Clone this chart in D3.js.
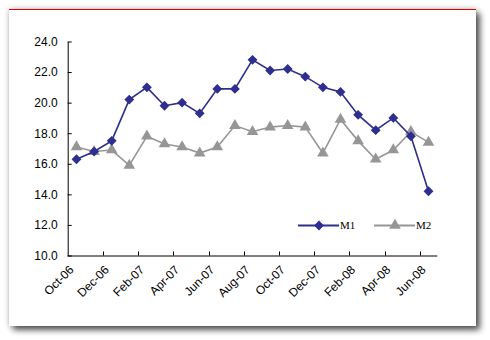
<!DOCTYPE html>
<html>
<head>
<meta charset="utf-8">
<script src="https://cdn.jsdelivr.net/npm/d3@7"></script>
<style>
  html, body { margin: 0; padding: 0; background: #fff; }
  svg { display: block; }
</style>
</head>
<body>
<svg id="chart" width="490" height="340"></svg>
<script>
// Monthly categories, Oct-06 .. Jun-08
const months = ["Oct-06","Nov-06","Dec-06","Jan-07","Feb-07","Mar-07","Apr-07","May-07","Jun-07",
                "Jul-07","Aug-07","Sep-07","Oct-07","Nov-07","Dec-07","Jan-08","Feb-08","Mar-08",
                "Apr-08","May-08","Jun-08"];
// Year-on-year growth, %
const m1 = [16.3,16.8,17.5,20.2,21.0,19.8,20.0,19.3,20.9,20.9,22.8,22.1,22.2,21.7,21.0,20.7,19.2,18.2,19.0,17.8,14.2];
const m2 = [17.1,16.8,16.9,15.9,17.8,17.3,17.1,16.7,17.1,18.5,18.1,18.4,18.5,18.4,16.7,18.9,17.5,16.3,16.9,18.1,17.4];
const yTicks = [10,12,14,16,18,20,22,24];
const seriesNames = ["M1","M2"];

(function () {
const svg = d3.select("#chart");

// Card with soft shadow
const defs = svg.append("defs");
const f = defs.append("filter").attr("id","shadow")
  .attr("x","-10%").attr("y","-10%").attr("width","120%").attr("height","120%");
f.append("feGaussianBlur").attr("in","SourceAlpha").attr("stdDeviation",3).attr("result","b1");
f.append("feOffset").attr("in","b1").attr("dx",4).attr("dy",4).attr("result","o1");
f.append("feComponentTransfer").attr("in","o1").attr("result","s1")
  .append("feFuncA").attr("type","linear").attr("slope",0.65);
f.append("feGaussianBlur").attr("in","SourceAlpha").attr("stdDeviation",3).attr("result","b2");
f.append("feComponentTransfer").attr("in","b2").attr("result","s2")
  .append("feFuncA").attr("type","linear").attr("slope",0.25);
const fm = f.append("feMerge");
fm.append("feMergeNode").attr("in","s2");
fm.append("feMergeNode").attr("in","s1");
fm.append("feMergeNode").attr("in","SourceGraphic");

svg.append("rect").attr("x",9).attr("y",9).attr("width",467).attr("height",317)
  .attr("fill","#fff").attr("filter","url(#shadow)");
svg.append("line").attr("x1",9).attr("x2",476).attr("y1",9.5).attr("y2",9.5)
  .attr("stroke","#e00000").attr("stroke-width",1);

// Scales
const plotLeft = 67.7, plotRight = 437.3, plotTop = 41.5, plotBottom = 255.5;
const x = d3.scaleBand().domain(months).range([plotLeft, plotRight]).padding(0);
const cx = d => x(d) + x.bandwidth() / 2;
const y = d3.scaleLinear().domain([10, 24]).range([plotBottom, plotTop]);

// Y axis (ticks point inward)
const yAxis = svg.append("g").attr("transform", `translate(${plotLeft},0)`)
  .call(d3.axisLeft(y).tickValues(yTicks).tickFormat(d3.format(".1f")).tickSize(-4).tickSizeOuter(0).tickPadding(10));
yAxis.select(".domain").attr("stroke","#000");
yAxis.selectAll(".tick line").attr("stroke","#000");
yAxis.selectAll("text").attr("font-family","Liberation Sans, Arial, sans-serif")
  .attr("font-size","12px").attr("fill","#000");

// X axis line with inward ticks between every second category
svg.append("line").attr("x1",plotLeft).attr("x2",plotRight).attr("y1",plotBottom+0.5).attr("y2",plotBottom+0.5)
  .attr("stroke","#000");
const boundaries = d3.range(2, months.length, 2).map(i => x(months[i]));
svg.append("g").selectAll("line").data(boundaries).join("line")
  .attr("x1", d => Math.round(d) + 0.5).attr("x2", d => Math.round(d) + 0.5)
  .attr("y1", plotBottom).attr("y2", plotBottom - 4).attr("stroke","#000");

// Category labels every second month, rotated
const labelled = months.filter((d, i) => i % 2 === 0);
svg.append("g").selectAll("text").data(labelled).join("text")
  .attr("transform", d => `translate(${cx(d) - 5},${plotBottom + 12}) rotate(-45)`)
  .attr("text-anchor","end").attr("dy","0.35em")
  .attr("font-family","Liberation Sans, Arial, sans-serif").attr("font-size","12px")
  .attr("fill","#000").text(d => d);

// Series
const line = d3.line().x((d, i) => cx(months[i])).y(d => y(d));
const colors = { M1: "#2e2e8f", M2: "#969696" };
const diamond = d3.symbol().type(d3.symbolDiamond2).size(62);
const triangle = d3.symbol().type(d3.symbolTriangle).size(58);

svg.append("path").datum(m2).attr("d", line).attr("fill","none")
  .attr("stroke", colors.M2).attr("stroke-width", 1.6);
svg.append("g").selectAll("path").data(m2).join("path")
  .attr("transform", (d, i) => `translate(${cx(months[i])},${y(d)})`)
  .attr("d", triangle).attr("fill", colors.M2);

svg.append("path").datum(m1).attr("d", line).attr("fill","none")
  .attr("stroke", colors.M1).attr("stroke-width", 1.6);
svg.append("g").selectAll("path").data(m1).join("path")
  .attr("transform", (d, i) => `translate(${cx(months[i])},${y(d)})`)
  .attr("d", diamond).attr("fill", colors.M1);

// Legend
const legendItems = [
  { name: seriesNames[0], x0: 298, sym: diamond },
  { name: seriesNames[1], x0: 374, sym: triangle }
];
const ly = 225.5;
const lg = svg.append("g");
legendItems.forEach(it => {
  lg.append("line").attr("x1", it.x0).attr("x2", it.x0 + 41).attr("y1", ly).attr("y2", ly)
    .attr("stroke", colors[it.name]).attr("stroke-width", 2);
  lg.append("path").attr("transform", `translate(${it.x0 + 21},${ly})`).attr("d", it.sym)
    .attr("fill", colors[it.name]);
  lg.append("text").attr("x", it.x0 + 42).attr("y", ly).attr("dy","0.35em")
    .attr("font-family","Liberation Serif, 'DejaVu Serif', serif").attr("font-size","11px")
    .attr("fill","#000").text(it.name);
});
})();
</script>
</body>
</html>
